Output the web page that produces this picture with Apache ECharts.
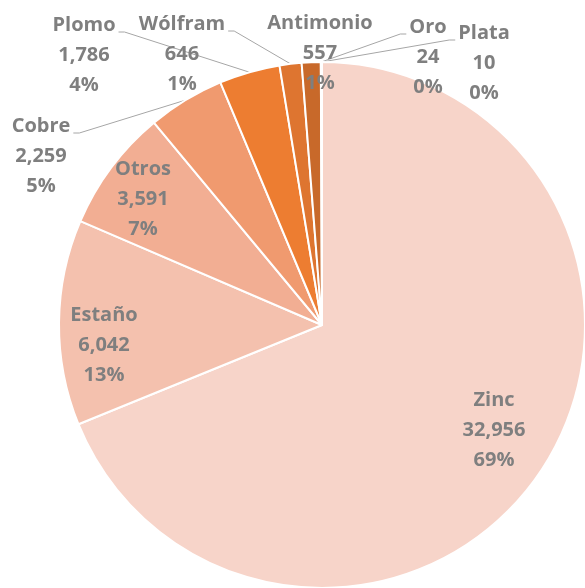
<!DOCTYPE html>
<html>
<head>
<meta charset="utf-8">
<script src="https://cdn.jsdelivr.net/npm/echarts@6/dist/echarts.min.js"></script>
<style>
  html, body { margin: 0; padding: 0; background: #fff; }
  #chart { width: 585px; height: 588px; }
</style>
</head>
<body>
<div id="chart"></div>
<script>
// datos del gráfico
const minerales = ['Zinc', 'Estaño', 'Otros', 'Cobre', 'Plomo', 'Wólfram', 'Antimonio', 'Oro', 'Plata'];
const valores = [32956, 6042, 3591, 2259, 1786, 646, 557, 24, 10];
const porcentajes = [69, 13, 7, 5, 4, 1, 1, 0, 0];   // tal como se leen en la figura
const colores = ['#F7D4C9', '#F4C1AE', '#F2AE93', '#F09A6F', '#ED7D31', '#DE7530', '#C8692A', '#B05E26', '#9E5322'];
const dentro = [true, true, true, false, false, false, false, false, false];

// posición de las etiquetas (centro del bloque de texto) y lado de la línea guía
const posEtiquetas = [
  [494, 430], [104, 345], [143, 199], [41, 156], [84, 55],
  [182, 54], [320, 53], [428, 57], [484, 63]
];
const ladoLinea = [null, null, null, 'der', 'der', 'der', null, 'izq', 'izq'];

const FUENTE = 'bold 20px "Open Sans"';
const ctx = document.createElement('canvas').getContext('2d');
ctx.font = FUENTE;

const fmt = v => v.toLocaleString('en-US');

const chart = echarts.init(document.getElementById('chart'));

const option = {
  animation: false,
  series: [{
    type: 'pie',
    center: [322, 325],
    radius: 263,
    startAngle: 90,
    clockwise: true,
    avoidLabelOverlap: false,
    itemStyle: { borderColor: '#fff', borderWidth: 2 },
    label: {
      color: '#7F7F7F',
      fontFamily: 'Open Sans',
      fontWeight: 'bold',
      fontSize: 20,
      lineHeight: 30,
      align: 'center',
      formatter: p => p.name + '\n' + fmt(p.value) + '\n' + porcentajes[p.dataIndex] + '%'
    },
    labelLine: {
      show: true,
      length: 10,
      length2: 6,
      lineStyle: { color: '#A6A6A6', width: 1 }
    },
    labelLayout: function (params) {
      const i = params.dataIndex;
      const p = posEtiquetas[i];
      const res = { x: p[0], y: p[1], align: 'center', verticalAlign: 'middle', hideOverlap: false };
      const lado = ladoLinea[i];
      if (lado && params.labelLinePoints) {
        const inicio = params.labelLinePoints[0];
        const w = ctx.measureText(minerales[i]).width;
        const yl = p[1] - 30 + 7;
        let fin, codo;
        if (lado === 'der') {
          fin = [p[0] + w / 2 + 3, yl];
          codo = [fin[0] + 6, yl];
        } else {
          fin = [p[0] - w / 2 - 3, yl];
          codo = [fin[0] - 6, yl];
        }
        res.labelLinePoints = [inicio, codo, fin];
      }
      return res;
    },
    data: minerales.map((m, i) => ({
      name: m,
      value: valores[i],
      itemStyle: { color: colores[i] },
      label: { position: dentro[i] ? 'inside' : 'outside' },
      labelLine: { show: !dentro[i] && ladoLinea[i] !== null }
    }))
  }]
};

chart.setOption(option);
</script>
</body>
</html>
